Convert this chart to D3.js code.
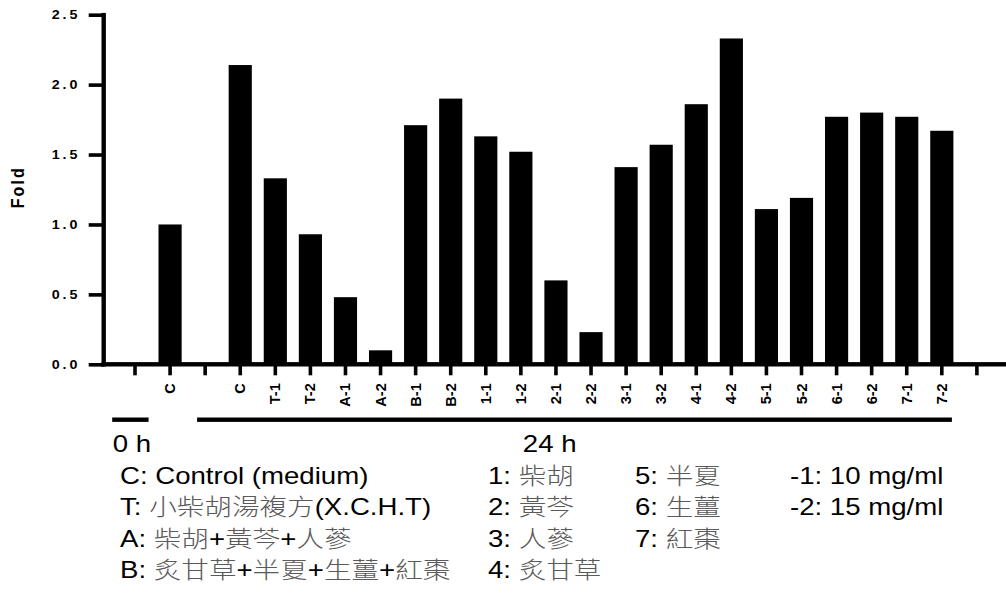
<!DOCTYPE html>
<html><head><meta charset="utf-8">
<script src="https://cdn.jsdelivr.net/npm/d3@7"></script>
<style>body{margin:0;background:#fff} svg{display:block}</style>
</head><body><svg id="c" width="1006" height="599"></svg>
<script>
// ---- data ----
const categories = ["", "C", "", "C", "T-1", "T-2", "A-1", "A-2", "B-1", "B-2", "1-1", "1-2", "2-1", "2-2", "3-1", "3-2", "4-1", "4-2", "5-1", "5-2", "6-1", "6-2", "7-1", "7-2", ""];
const values = [null, 1.00, null, 2.14, 1.33, 0.93, 0.48, 0.10, 1.71, 1.90, 1.63, 1.52, 0.60, 0.23, 1.41, 1.57, 1.86, 2.33, 1.11, 1.19, 1.77, 1.80, 1.77, 1.67, null];
const yTicks = [0, 0.5, 1.0, 1.5, 2.0, 2.5];
const yTitle = "Fold";
const groupLabels = ["0 h", "24 h"];
const groupFrom = [0, 2];
const groupTo = [1, 23];
const legendCol1 = ["C: Control (medium)", "T: 小柴胡湯複方(X.C.H.T)", "A: 柴胡+黃芩+人蔘", "B: 炙甘草+半夏+生薑+紅棗"];
const legendCol2 = ["1: 柴胡", "2: 黃芩", "3: 人蔘", "4: 炙甘草"];
const legendCol3 = ["5: 半夏", "6: 生薑", "7: 紅棗"];
const legendCol4 = ["-1: 10 mg/ml", "-2: 15 mg/ml"];

// ---- layout ----
const svg = d3.select("#c");
const axisX = 103.7, baseY = 364.3, topY = 14.7;
const FONT = "'Liberation Sans', Arial, 'Noto Sans CJK TC', sans-serif";
const CJK = "'Noto Sans CJK TC', 'Noto Sans CJK SC', sans-serif";

const x = d3.scaleBand().domain(d3.range(categories.length)).range([111.5, 1000.4]).padding(0.34);
const y = d3.scaleLinear().domain([0, 2.5]).range([baseY, topY]);
const xc = i => x(i) + x.bandwidth() / 2;

// bars
svg.append("g").selectAll("rect")
  .data(values.map((v, i) => ({v, i})).filter(d => d.v != null))
  .join("rect")
  .attr("x", d => x(d.i)).attr("width", x.bandwidth())
  .attr("y", d => y(d.v)).attr("height", d => y(0) - y(d.v))
  .attr("fill", "#000");

// y axis
const yAxis = svg.append("g").attr("transform", `translate(${axisX},0)`)
  .call(d3.axisLeft(y).tickValues(yTicks).tickFormat("").tickSize(0).tickSizeOuter(0));
yAxis.select(".domain").remove();
yAxis.selectAll(".tick line").remove();
yAxis.selectAll(".tick").append("rect")
  .attr("x", -15).attr("y", -1.8).attr("width", 15).attr("height", 3.6).attr("fill", "#000");
svg.append("rect").attr("x", axisX - 2.2).attr("width", 4.4)
  .attr("y", topY - 1.8).attr("height", baseY - topY + 4).attr("fill", "#000");
svg.append("g").selectAll("text").data(yTicks).join("text")
  .attr("transform", d => `translate(77.5,${y(d) + 4.6}) scale(1.1,1)`)
  .attr("text-anchor", "end").attr("font-family", FONT).attr("font-weight", "bold")
  .attr("font-size", 13).attr("fill", "#000")
  .attr("textLength", 23.5).attr("lengthAdjust", "spacing")
  .text(d => d3.format(".1f")(d));

// x axis
const xAxis = svg.append("g").attr("transform", `translate(0,${baseY})`)
  .call(d3.axisBottom(x).tickFormat(i => categories[i]).tickSize(0).tickSizeOuter(0).tickPadding(0));
xAxis.select(".domain").remove();
xAxis.selectAll(".tick line").remove();
xAxis.selectAll(".tick").append("rect")
  .attr("x", -1.8).attr("y", 0).attr("width", 3.6).attr("height", 11).attr("fill", "#000");
xAxis.selectAll(".tick text")
  .attr("font-family", FONT).attr("font-weight", "bold").attr("font-size", 14.5).attr("fill", "#000")
  .attr("text-anchor", "end").attr("dy", null)
  .attr("transform", "translate(5,19) rotate(-90)").attr("x", 0).attr("y", 0);
svg.append("rect").attr("x", axisX - 2.2).attr("width", 1006 - axisX + 2.2)
  .attr("y", baseY - 2.2).attr("height", 4.4).attr("fill", "#000");

// y title
svg.append("text").attr("transform", `translate(24,188.3) scale(1.2,1) rotate(-90)`)
  .attr("text-anchor", "middle").attr("font-family", FONT).attr("font-weight", "bold")
  .attr("font-size", 16).attr("textLength", 40).attr("lengthAdjust", "spacing").text(yTitle);

// group lines
const groupStart = [axisX + 8.5, x(groupFrom[1]) + 3.5];
const groupEnd = [xc(groupTo[0]) - 21.5, x(groupTo[1]) + x.bandwidth() - 1.5];
const gY = 419.7;
groupLabels.forEach((lab, k) => {
  svg.append("rect").attr("x", groupStart[k]).attr("width", groupEnd[k] - groupStart[k])
    .attr("y", gY - 2.2).attr("height", 4.4).attr("fill", "#000");
});

const SX = 1.2;
function stretchedText(str, px, py) {
  const t = svg.append("text").attr("transform", `translate(${px},${py}) scale(${SX},1)`)
    .attr("font-family", FONT).attr("font-size", 23).attr("fill", "#000");
  const parts = str.split(/([\u3400-\u9fff]+)/).filter(s => s.length);
  parts.forEach(p => {
    const isC = /[\u3400-\u9fff]/.test(p);
    t.append("tspan").text(p)
      .attr("font-family", isC ? CJK : FONT)
      .attr("fill", isC ? "#5a5a5a" : "#000")
      .attr("font-weight", isC ? 300 : null);
  });
  return t;
}
stretchedText(groupLabels[0], groupStart[0] + 0.5, 451.5);
stretchedText(groupLabels[1], xc(11) + 2, 451.5);

const rowY = [483.5, 515, 546.5, 578];
legendCol1.forEach((s, i) => stretchedText(s, 120, rowY[i]));
legendCol2.forEach((s, i) => stretchedText(s, 488, rowY[i]));
legendCol3.forEach((s, i) => stretchedText(s, 635, rowY[i]));
legendCol4.forEach((s, i) => stretchedText(s, 790, rowY[i]));
</script>
</body></html>
